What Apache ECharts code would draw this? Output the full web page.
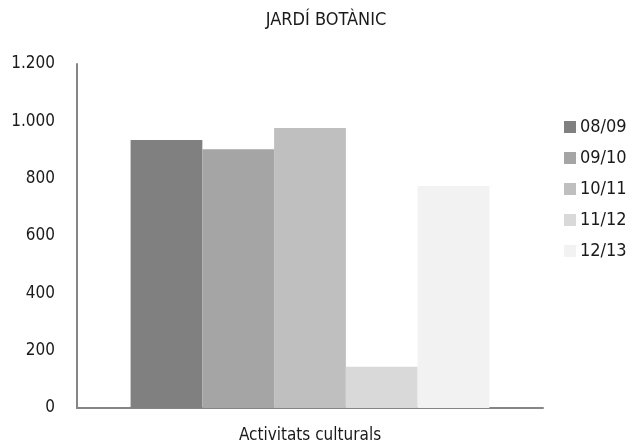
<!DOCTYPE html>
<html>
<head>
<meta charset="utf-8">
<script src="https://cdn.jsdelivr.net/npm/echarts@6/dist/echarts.min.js"></script>
<style>html,body{margin:0;padding:0;background:#fff;}#c{width:634px;height:447px;}</style>
</head>
<body>
<div id="c"></div>
<script>
const categories = ['Activitats culturals'];
const seriesNames = ['08/09', '09/10', '10/11', '11/12', '12/13'];
const seriesValues = [[935], [903], [977], [144], [774]];
const colors = ['#808080', '#a5a5a5', '#bfbfbf', '#d9d9d9', '#f2f2f2'];
const FONT = '"Liberation Sans Narrow", "DejaVu Sans Condensed", sans-serif';

const chart = echarts.init(document.getElementById('c'));
chart.setOption({
  animation: false,
  backgroundColor: '#fff',
  title: {
    text: 'JARDÍ BOTÀNIC',
    left: 326, top: 11, textAlign: 'center', padding: 0,
    textStyle: { fontFamily: FONT, fontSize: 18, fontWeight: 'normal', color: '#1a1a1a' }
  },
  legend: {
    orient: 'vertical', left: 564, top: 118, padding: 0,
    itemWidth: 12, itemHeight: 12, itemGap: 13,
    icon: 'rect',
    textStyle: { fontFamily: FONT, fontSize: 18, lineHeight: 18, color: '#1a1a1a', padding: [0,0,0,-1] },
    data: seriesNames
  },
  grid: { left: 77, right: 91, top: 64, bottom: 39, containLabel: false },
  xAxis: {
    type: 'category', data: categories,
    axisLine: { lineStyle: { color: '#868686', width: 2 } },
    axisTick: { show: false },
    axisLabel: { fontFamily: FONT, fontSize: 17, color: '#1a1a1a', margin: 19 }
  },
  yAxis: {
    type: 'value', min: 0, max: 1200, interval: 200,
    axisLine: { show: true, lineStyle: { color: '#868686', width: 2 } },
    axisTick: { show: false },
    splitLine: { show: false },
    axisLabel: {
      fontFamily: FONT, fontSize: 17, color: '#1a1a1a', margin: 22,
      formatter: v => v.toLocaleString('de-DE')
    }
  },
  series: seriesNames.map((n, i) => ({
    name: n, type: 'bar', data: seriesValues[i],
    itemStyle: { color: colors[i] },
    barGap: '0%', barCategoryGap: '23%'
  }))
});
</script>
</body>
</html>
